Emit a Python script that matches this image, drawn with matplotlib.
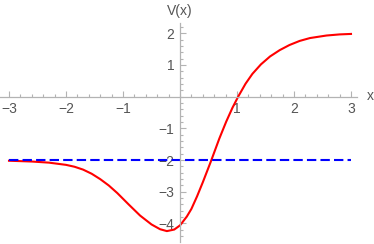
import matplotlib
matplotlib.use("Agg")
import matplotlib.pyplot as plt
import numpy as np
from matplotlib.ticker import MultipleLocator, FixedLocator

### values
x_curve = [-3.0, -2.6, -2.3, -2.0, -1.85, -1.7, -1.55, -1.4, -1.25, -1.1,
           -0.9, -0.7, -0.5, -0.35, -0.23, -0.1, 0.0, 0.12, 0.2, 0.3, 0.4,
           0.54, 0.69, 0.81, 0.92, 1.02, 1.15, 1.27, 1.42, 1.58, 1.75, 1.92,
           2.1, 2.28, 2.57, 2.8, 3.0]
v_curve = [-2.02, -2.045, -2.08, -2.15, -2.21, -2.30, -2.43, -2.60, -2.80,
           -3.04, -3.40, -3.75, -4.03, -4.18, -4.24, -4.19, -4.06, -3.78,
           -3.54, -3.14, -2.70, -2.05, -1.32, -0.79, -0.35, 0.00, 0.41, 0.72,
           1.02, 1.27, 1.47, 1.63, 1.76, 1.85, 1.93, 1.965, 1.98]
x_line = [-3.0, 3.0]
v_line = [-2.0, -2.0]
xticks = [-3, -2, -1, 1, 2, 3]
yticks = [-4, -3, -2, -1, 1, 2]

plt.rcParams['font.family'] = ['Liberation Sans', 'DejaVu Sans']

W, H = 374, 244
fig = plt.figure(figsize=(W / 100, H / 100), dpi=100)
# axes box in pixel terms: x axis spans px 0..357, y axis px 23..242
ax = fig.add_axes([0 / W, 1 - 242 / H, 357 / W, (242 - 23) / H])
ax.set_xlim((0 - 180) / 57.0, (357 - 180) / 57.0)
ax.set_ylim((96.7 - 242) / 31.7, (96.7 - 23) / 31.7)

grey = '#b3b3b3'
for s in ['top', 'right']:
    ax.spines[s].set_visible(False)
ax.spines['left'].set_position(('data', 0))
ax.spines['bottom'].set_position(('data', 0))
for s in ['left', 'bottom']:
    ax.spines[s].set_color(grey)
    ax.spines[s].set_linewidth(0.9)

ax.xaxis.set_major_locator(FixedLocator(xticks))
ax.yaxis.set_major_locator(FixedLocator(yticks))
ax.xaxis.set_minor_locator(MultipleLocator(0.2))
ax.yaxis.set_minor_locator(MultipleLocator(0.2))
ax.tick_params(which='both', direction='in', color=grey, width=0.8,
               labelcolor='#555555', labelsize=10)
ax.tick_params(which='major', length=4, pad=4)
ax.tick_params(which='minor', length=2)
ax.set_xticklabels([str(t).replace('-', '\u2212') for t in xticks])
ax.set_yticklabels([str(t).replace('-', '\u2212') for t in yticks])

ax.plot(x_curve, v_curve, color='#ff0000', lw=1.5, solid_joinstyle='round')
ax.plot(x_line, v_line, color='#0000ff', lw=1.5, dashes=(4.5, 2))

fig.text(180 / W, 1 - 11 / H, 'V(x)', ha='center', va='center',
         color='#555555', fontsize=10)
fig.text(370 / W, 1 - 96 / H, 'x', ha='center', va='center',
         color='#555555', fontsize=10)

fig.savefig('out.png', dpi=100)
